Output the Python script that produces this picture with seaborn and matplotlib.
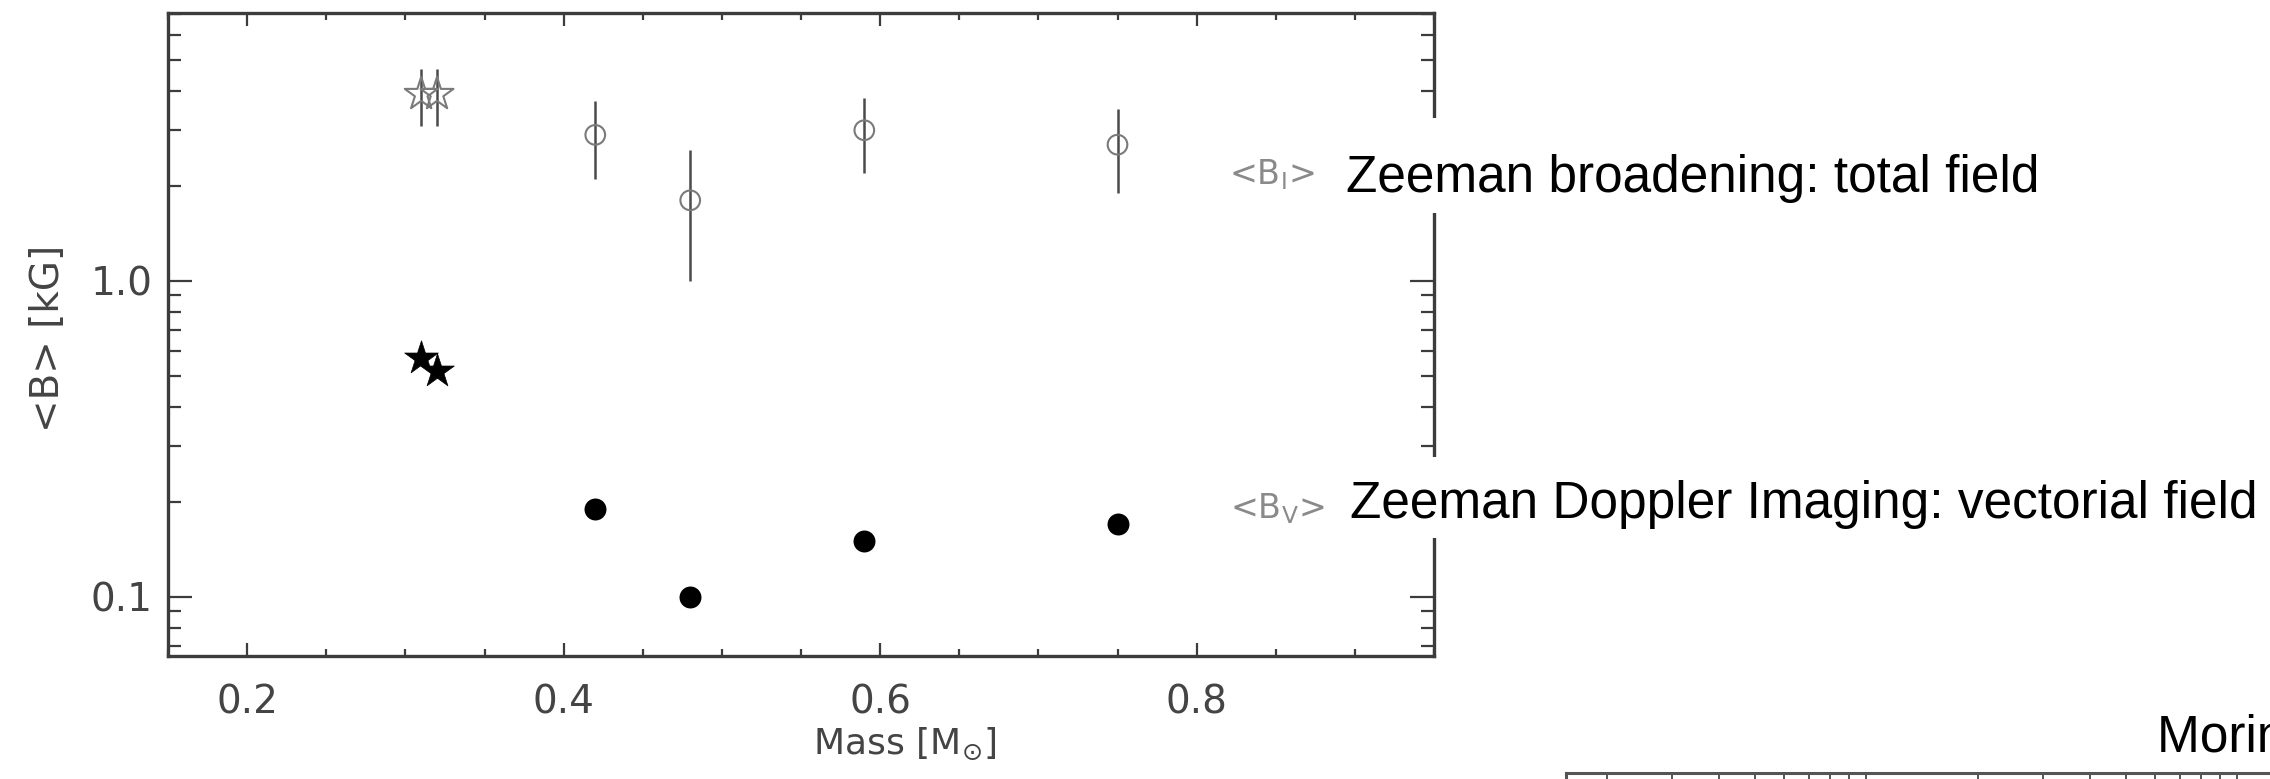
import numpy as np
import pandas as pd
import matplotlib
matplotlib.use("Agg")
import matplotlib.pyplot as plt
import seaborn as sns
from matplotlib.ticker import FixedLocator, FixedFormatter, MultipleLocator, LogLocator, NullFormatter
from matplotlib.patches import Rectangle

# ---------------- data ----------------
star_mass = [0.31, 0.32]
star_bi = [3.9, 3.9]
star_bi_err = [0.8, 0.8]
star_bv = [0.57, 0.52]

circ_mass = [0.42, 0.48, 0.59, 0.75]
circ_bi = [2.9, 1.8, 3.0, 2.7]
circ_bi_err = [0.8, 0.8, 0.8, 0.8]
circ_bv = [0.19, 0.10, 0.15, 0.17]

x_ticks = [0.2, 0.4, 0.6, 0.8]
x_tick_labels = ["0.2", "0.4", "0.6", "0.8"]
y_ticks = [0.1, 1.0]
y_tick_labels = ["0.1", "1.0"]

label_bi = r"<B$_{\rm I}$>"
label_bv = r"<B$_{\rm V}$>"
text_bi = "Zeeman broadening: total field"
text_bv = "Zeeman Doppler Imaging: vectorial field"
text_ref = "Morin et al. (2010)"

# ---------------- style ----------------
sns.set_style("ticks")
plt.rcParams['font.family'] = ['DejaVu Sans']

W, H = 2270, 779
fig = plt.figure(figsize=(W / 100, H / 100), dpi=100)
fig.patch.set_facecolor("white")

ax = fig.add_axes([168 / W, 1 - 656 / H, (1434 - 168) / W, (656 - 13) / H])

axis_col = "#3c3c3c"
gray = "#7a7a7a"

df_stars = pd.DataFrame({"mass": star_mass, "bi": star_bi, "err": star_bi_err, "bv": star_bv})
df_circ = pd.DataFrame({"mass": circ_mass, "bi": circ_bi, "err": circ_bi_err, "bv": circ_bv})

# error bars of total field
ax.errorbar(df_stars["mass"], df_stars["bi"], yerr=df_stars["err"], fmt="none",
            ecolor="#4a4a4a", elinewidth=1.8, capsize=0, zorder=2)
ax.errorbar(df_circ["mass"], df_circ["bi"], yerr=df_circ["err"], fmt="none",
            ecolor="#4a4a4a", elinewidth=1.8, capsize=0, zorder=2)

# open markers: total field
sns.scatterplot(data=df_stars, x="mass", y="bi", marker="*", s=620,
                facecolor="none", edgecolor=gray, linewidth=1.5, ax=ax, zorder=3)
sns.scatterplot(data=df_circ, x="mass", y="bi", marker="o", s=200,
                facecolor="none", edgecolor=gray, linewidth=1.5, ax=ax, zorder=3)

# filled markers: vectorial field
sns.scatterplot(data=df_stars, x="mass", y="bv", marker="*", s=650,
                color="black", edgecolor="black", linewidth=0.5, ax=ax, zorder=3)
sns.scatterplot(data=df_circ, x="mass", y="bv", marker="o", s=250,
                color="black", edgecolor="black", linewidth=0, ax=ax, zorder=3)

ax.set_yscale("log")
ax.set_xlim(0.15, 0.95)
ax.set_ylim(0.065, 7.05)

ax.xaxis.set_major_locator(FixedLocator(x_ticks))
ax.xaxis.set_major_formatter(FixedFormatter(x_tick_labels))
ax.xaxis.set_minor_locator(MultipleLocator(0.05))
ax.yaxis.set_major_locator(FixedLocator(y_ticks))
ax.yaxis.set_major_formatter(FixedFormatter(y_tick_labels))
ax.yaxis.set_minor_locator(LogLocator(base=10, subs=np.arange(2, 10)))
ax.yaxis.set_minor_formatter(NullFormatter())

for sp in ax.spines.values():
    sp.set_visible(True)
    sp.set_color(axis_col)
    sp.set_linewidth(2.4)

ax.tick_params(axis="x", which="major", direction="in", length=9.5, width=1.6,
               top=True, bottom=True, labelsize=28, pad=20, color=axis_col, labelcolor="#444444")
ax.tick_params(axis="x", which="minor", direction="in", length=5, width=1.6,
               top=True, bottom=True, color=axis_col)
ax.tick_params(axis="y", which="major", direction="in", length=17, width=1.6,
               left=True, right=True, labelsize=28, pad=11, color=axis_col, labelcolor="#444444")
ax.tick_params(axis="y", which="minor", direction="in", length=9.5, width=1.6,
               left=True, right=True, color=axis_col)

ax.set_xlabel(r"Mass [M$_{\odot}$]", fontsize=26, color="#444444")
ax.set_ylabel("<B> [kG]", fontsize=28, color="#444444")
ax.xaxis.set_label_coords(0.582, -0.108)
ax.yaxis.set_label_coords(-0.080, 0.494)

# white boxes of the slide annotations (cover the right spine)
fig.patches.append(Rectangle((1332 / W, 1 - 213 / H), (W - 1332) / W, (213 - 118) / H,
                             transform=fig.transFigure, facecolor="white", edgecolor="none", zorder=2))
fig.patches.append(Rectangle((1332 / W, 1 - 538 / H), (W - 1332) / W, (538 - 457) / H,
                             transform=fig.transFigure, facecolor="white", edgecolor="none", zorder=2))

# gray labels from the original plot
fig.text(1229 / W, 1 - 184 / H, label_bi, fontsize=24, color="#8a8a8a", va="baseline", ha="left", zorder=4)
fig.text(1230 / W, 1 - 518 / H, label_bv, fontsize=24, color="#8a8a8a", va="baseline", ha="left", zorder=4)

# slide annotations
txt_font = ["Liberation Sans", "DejaVu Sans"]
fig.text(1346 / W, 1 - 192 / H, text_bi, fontsize=37, family=txt_font, color="black",
         va="baseline", ha="left", zorder=5)
fig.text(1350 / W, 1 - 518 / H, text_bv, fontsize=37, family=txt_font, color="black",
         va="baseline", ha="left", zorder=5)
fig.text(2157 / W, 1 - 752 / H, text_ref, fontsize=37, family=txt_font, color="black",
         va="baseline", ha="left", zorder=5)

# top edge of the next panel (cut by the slide)
ax2 = fig.add_axes([1566 / W, 1 - 773 / H - 0.5, 0.45, 0.5])
ax2.set_xscale("log")
ax2.set_xlim(1.55, 880)
ax2.set_ylim(0, 1)
for name, sp in ax2.spines.items():
    sp.set_color("#555555")
    sp.set_linewidth(2.2)
    sp.set_visible(name in ("top", "left"))
ax2.tick_params(axis="x", which="both", direction="in", top=True, bottom=False,
                labeltop=False, labelbottom=False, length=6, width=1.4, color="#555555")
ax2.tick_params(axis="y", left=False, labelleft=False)
ax2.xaxis.set_minor_locator(LogLocator(base=10, subs=np.arange(2, 10)))
ax2.set_facecolor("white")

fig.savefig("out.png", dpi=100, facecolor="white")
